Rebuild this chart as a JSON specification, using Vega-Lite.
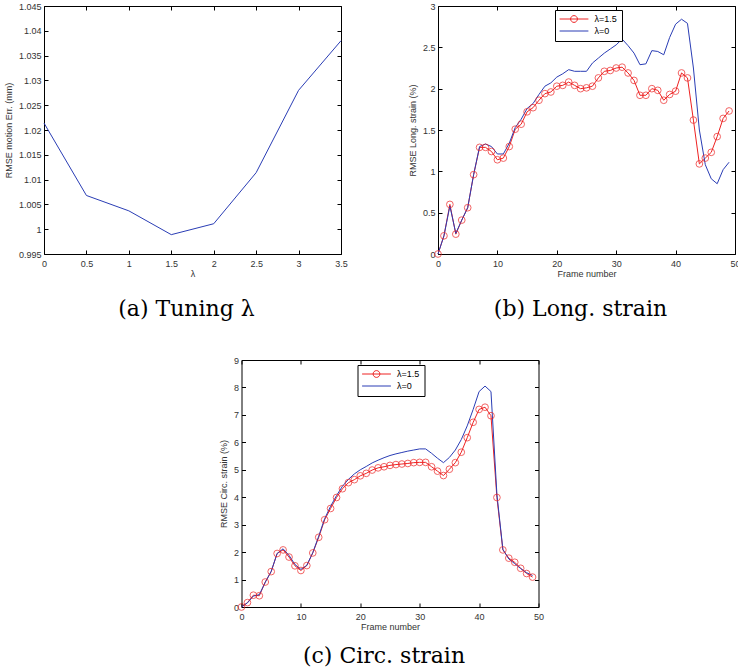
{
  "$schema": "https://vega.github.io/schema/vega-lite/v6.json",
  "padding": {"left": 4, "top": 2, "right": 0, "bottom": 0},
  "background": "white",
  "spacing": 36,
  "resolve": {"scale": {"color": "independent", "shape": "independent"}, "legend": {"color": "independent", "shape": "independent"}},
  "config": {
    "view": {"stroke": null},
    "axis": {
      "domainColor": "black", "domainWidth": 1,
      "tickColor": "black", "tickWidth": 1, "tickSize": -4,
      "labelFont": "Liberation Sans", "labelFontSize": 9, "labelColor": "#333333",
      "titleFont": "Liberation Sans", "titleFontSize": 9, "titleFontWeight": "normal", "titleColor": "#333333",
      "grid": false, "labelOverlap": false, "labelFlush": false, "labelBound": false
    },
    "axisX": {"labelPadding": 9, "titlePadding": 1},
    "axisY": {"labelPadding": 7, "titlePadding": 5},
    "title": {"font": "DejaVu Serif", "fontSize": 22, "fontWeight": "normal", "color": "black"}
  },
  "datasets": {
    "tuning": [
      {"lambda": 0, "rmse": 1.0214}, {"lambda": 0.5, "rmse": 1.0068}, {"lambda": 1, "rmse": 1.0037},
      {"lambda": 1.5, "rmse": 0.9989}, {"lambda": 2, "rmse": 1.0011}, {"lambda": 2.5, "rmse": 1.0114},
      {"lambda": 3, "rmse": 1.028}, {"lambda": 3.5, "rmse": 1.038}
    ],
    "long": [
      {"frame":0,"value":0,"series":"λ=1.5"},{"frame":1,"value":0.22,"series":"λ=1.5"},{"frame":2,"value":0.6,"series":"λ=1.5"},{"frame":3,"value":0.24,"series":"λ=1.5"},{"frame":4,"value":0.41,"series":"λ=1.5"},{"frame":5,"value":0.56,"series":"λ=1.5"},{"frame":6,"value":0.96,"series":"λ=1.5"},{"frame":7,"value":1.29,"series":"λ=1.5"},{"frame":8,"value":1.29,"series":"λ=1.5"},{"frame":9,"value":1.24,"series":"λ=1.5"},
      {"frame":10,"value":1.14,"series":"λ=1.5"},{"frame":11,"value":1.16,"series":"λ=1.5"},{"frame":12,"value":1.3,"series":"λ=1.5"},{"frame":13,"value":1.51,"series":"λ=1.5"},{"frame":14,"value":1.57,"series":"λ=1.5"},{"frame":15,"value":1.72,"series":"λ=1.5"},{"frame":16,"value":1.77,"series":"λ=1.5"},{"frame":17,"value":1.86,"series":"λ=1.5"},{"frame":18,"value":1.94,"series":"λ=1.5"},{"frame":19,"value":1.96,"series":"λ=1.5"},
      {"frame":20,"value":2.03,"series":"λ=1.5"},{"frame":21,"value":2.04,"series":"λ=1.5"},{"frame":22,"value":2.08,"series":"λ=1.5"},{"frame":23,"value":2.04,"series":"λ=1.5"},{"frame":24,"value":2.0,"series":"λ=1.5"},{"frame":25,"value":2.01,"series":"λ=1.5"},{"frame":26,"value":2.03,"series":"λ=1.5"},{"frame":27,"value":2.13,"series":"λ=1.5"},{"frame":28,"value":2.21,"series":"λ=1.5"},{"frame":29,"value":2.22,"series":"λ=1.5"},
      {"frame":30,"value":2.25,"series":"λ=1.5"},{"frame":31,"value":2.26,"series":"λ=1.5"},{"frame":32,"value":2.19,"series":"λ=1.5"},{"frame":33,"value":2.1,"series":"λ=1.5"},{"frame":34,"value":1.92,"series":"λ=1.5"},{"frame":35,"value":1.92,"series":"λ=1.5"},{"frame":36,"value":2.0,"series":"λ=1.5"},{"frame":37,"value":1.98,"series":"λ=1.5"},{"frame":38,"value":1.86,"series":"λ=1.5"},{"frame":39,"value":1.93,"series":"λ=1.5"},
      {"frame":40,"value":1.97,"series":"λ=1.5"},{"frame":41,"value":2.19,"series":"λ=1.5"},{"frame":42,"value":2.13,"series":"λ=1.5"},{"frame":43,"value":1.62,"series":"λ=1.5"},{"frame":44,"value":1.09,"series":"λ=1.5"},{"frame":45,"value":1.16,"series":"λ=1.5"},{"frame":46,"value":1.23,"series":"λ=1.5"},{"frame":47,"value":1.42,"series":"λ=1.5"},{"frame":48,"value":1.64,"series":"λ=1.5"},{"frame":49,"value":1.73,"series":"λ=1.5"},
      {"frame":0,"value":0,"series":"λ=0"},{"frame":1,"value":0.22,"series":"λ=0"},{"frame":2,"value":0.58,"series":"λ=0"},{"frame":3,"value":0.25,"series":"λ=0"},{"frame":4,"value":0.41,"series":"λ=0"},{"frame":5,"value":0.56,"series":"λ=0"},{"frame":6,"value":0.96,"series":"λ=0"},{"frame":7,"value":1.3,"series":"λ=0"},{"frame":8,"value":1.33,"series":"λ=0"},{"frame":9,"value":1.3,"series":"λ=0"},
      {"frame":10,"value":1.21,"series":"λ=0"},{"frame":11,"value":1.21,"series":"λ=0"},{"frame":12,"value":1.34,"series":"λ=0"},{"frame":13,"value":1.53,"series":"λ=0"},{"frame":14,"value":1.63,"series":"λ=0"},{"frame":15,"value":1.76,"series":"λ=0"},{"frame":16,"value":1.82,"series":"λ=0"},{"frame":17,"value":1.93,"series":"λ=0"},{"frame":18,"value":2.03,"series":"λ=0"},{"frame":19,"value":2.07,"series":"λ=0"},
      {"frame":20,"value":2.14,"series":"λ=0"},{"frame":21,"value":2.18,"series":"λ=0"},{"frame":22,"value":2.23,"series":"λ=0"},{"frame":23,"value":2.21,"series":"λ=0"},{"frame":24,"value":2.21,"series":"λ=0"},{"frame":25,"value":2.21,"series":"λ=0"},{"frame":26,"value":2.31,"series":"λ=0"},{"frame":27,"value":2.37,"series":"λ=0"},{"frame":28,"value":2.43,"series":"λ=0"},{"frame":29,"value":2.48,"series":"λ=0"},
      {"frame":30,"value":2.53,"series":"λ=0"},{"frame":31,"value":2.6,"series":"λ=0"},{"frame":32,"value":2.52,"series":"λ=0"},{"frame":33,"value":2.43,"series":"λ=0"},{"frame":34,"value":2.29,"series":"λ=0"},{"frame":35,"value":2.3,"series":"λ=0"},{"frame":36,"value":2.46,"series":"λ=0"},{"frame":37,"value":2.45,"series":"λ=0"},{"frame":38,"value":2.41,"series":"λ=0"},{"frame":39,"value":2.62,"series":"λ=0"},
      {"frame":40,"value":2.78,"series":"λ=0"},{"frame":41,"value":2.84,"series":"λ=0"},{"frame":42,"value":2.79,"series":"λ=0"},{"frame":43,"value":2.25,"series":"λ=0"},{"frame":44,"value":1.5,"series":"λ=0"},{"frame":45,"value":1.08,"series":"λ=0"},{"frame":46,"value":0.91,"series":"λ=0"},{"frame":47,"value":0.85,"series":"λ=0"},{"frame":48,"value":1.02,"series":"λ=0"},{"frame":49,"value":1.11,"series":"λ=0"}
    ],
    "circ": [
      {"frame":0,"value":0,"series":"λ=1.5"},{"frame":1,"value":0.16,"series":"λ=1.5"},{"frame":2,"value":0.43,"series":"λ=1.5"},{"frame":3,"value":0.41,"series":"λ=1.5"},{"frame":4,"value":0.91,"series":"λ=1.5"},{"frame":5,"value":1.29,"series":"λ=1.5"},{"frame":6,"value":1.95,"series":"λ=1.5"},{"frame":7,"value":2.08,"series":"λ=1.5"},{"frame":8,"value":1.82,"series":"λ=1.5"},{"frame":9,"value":1.5,"series":"λ=1.5"},
      {"frame":10,"value":1.33,"series":"λ=1.5"},{"frame":11,"value":1.51,"series":"λ=1.5"},{"frame":12,"value":1.97,"series":"λ=1.5"},{"frame":13,"value":2.54,"series":"λ=1.5"},{"frame":14,"value":3.18,"series":"λ=1.5"},{"frame":15,"value":3.59,"series":"λ=1.5"},{"frame":16,"value":3.99,"series":"λ=1.5"},{"frame":17,"value":4.31,"series":"λ=1.5"},{"frame":18,"value":4.53,"series":"λ=1.5"},{"frame":19,"value":4.64,"series":"λ=1.5"},
      {"frame":20,"value":4.78,"series":"λ=1.5"},{"frame":21,"value":4.87,"series":"λ=1.5"},{"frame":22,"value":4.99,"series":"λ=1.5"},{"frame":23,"value":5.07,"series":"λ=1.5"},{"frame":24,"value":5.11,"series":"λ=1.5"},{"frame":25,"value":5.16,"series":"λ=1.5"},{"frame":26,"value":5.19,"series":"λ=1.5"},{"frame":27,"value":5.21,"series":"λ=1.5"},{"frame":28,"value":5.23,"series":"λ=1.5"},{"frame":29,"value":5.26,"series":"λ=1.5"},
      {"frame":30,"value":5.27,"series":"λ=1.5"},{"frame":31,"value":5.27,"series":"λ=1.5"},{"frame":32,"value":5.11,"series":"λ=1.5"},{"frame":33,"value":4.95,"series":"λ=1.5"},{"frame":34,"value":4.79,"series":"λ=1.5"},{"frame":35,"value":5.02,"series":"λ=1.5"},{"frame":36,"value":5.26,"series":"λ=1.5"},{"frame":37,"value":5.64,"series":"λ=1.5"},{"frame":38,"value":6.17,"series":"λ=1.5"},{"frame":39,"value":6.73,"series":"λ=1.5"},
      {"frame":40,"value":7.2,"series":"λ=1.5"},{"frame":41,"value":7.28,"series":"λ=1.5"},{"frame":42,"value":6.97,"series":"λ=1.5"},{"frame":43,"value":3.99,"series":"λ=1.5"},{"frame":44,"value":2.08,"series":"λ=1.5"},{"frame":45,"value":1.78,"series":"λ=1.5"},{"frame":46,"value":1.63,"series":"λ=1.5"},{"frame":47,"value":1.41,"series":"λ=1.5"},{"frame":48,"value":1.22,"series":"λ=1.5"},{"frame":49,"value":1.09,"series":"λ=1.5"},
      {"frame":0,"value":0,"series":"λ=0"},{"frame":1,"value":0.15,"series":"λ=0"},{"frame":2,"value":0.4,"series":"λ=0"},{"frame":3,"value":0.45,"series":"λ=0"},{"frame":4,"value":0.9,"series":"λ=0"},{"frame":5,"value":1.3,"series":"λ=0"},{"frame":6,"value":1.95,"series":"λ=0"},{"frame":7,"value":2.12,"series":"λ=0"},{"frame":8,"value":1.88,"series":"λ=0"},{"frame":9,"value":1.55,"series":"λ=0"},
      {"frame":10,"value":1.37,"series":"λ=0"},{"frame":11,"value":1.52,"series":"λ=0"},{"frame":12,"value":1.98,"series":"λ=0"},{"frame":13,"value":2.58,"series":"λ=0"},{"frame":14,"value":3.22,"series":"λ=0"},{"frame":15,"value":3.67,"series":"λ=0"},{"frame":16,"value":4.06,"series":"λ=0"},{"frame":17,"value":4.4,"series":"λ=0"},{"frame":18,"value":4.65,"series":"λ=0"},{"frame":19,"value":4.85,"series":"λ=0"},
      {"frame":20,"value":5.0,"series":"λ=0"},{"frame":21,"value":5.12,"series":"λ=0"},{"frame":22,"value":5.25,"series":"λ=0"},{"frame":23,"value":5.35,"series":"λ=0"},{"frame":24,"value":5.44,"series":"λ=0"},{"frame":25,"value":5.52,"series":"λ=0"},{"frame":26,"value":5.58,"series":"λ=0"},{"frame":27,"value":5.63,"series":"λ=0"},{"frame":28,"value":5.68,"series":"λ=0"},{"frame":29,"value":5.72,"series":"λ=0"},
      {"frame":30,"value":5.76,"series":"λ=0"},{"frame":31,"value":5.76,"series":"λ=0"},{"frame":32,"value":5.6,"series":"λ=0"},{"frame":33,"value":5.42,"series":"λ=0"},{"frame":34,"value":5.26,"series":"λ=0"},{"frame":35,"value":5.45,"series":"λ=0"},{"frame":36,"value":5.72,"series":"λ=0"},{"frame":37,"value":6.1,"series":"λ=0"},{"frame":38,"value":6.6,"series":"λ=0"},{"frame":39,"value":7.2,"series":"λ=0"},
      {"frame":40,"value":7.85,"series":"λ=0"},{"frame":41,"value":8.05,"series":"λ=0"},{"frame":42,"value":7.85,"series":"λ=0"},{"frame":43,"value":4.1,"series":"λ=0"},{"frame":44,"value":2.1,"series":"λ=0"},{"frame":45,"value":1.75,"series":"λ=0"},{"frame":46,"value":1.58,"series":"λ=0"},{"frame":47,"value":1.4,"series":"λ=0"},{"frame":48,"value":1.25,"series":"λ=0"},{"frame":49,"value":1.15,"series":"λ=0"}
    ]
  },
  "vconcat": [
    {
      "resolve": {"scale": {"color": "independent", "shape": "independent"}, "legend": {"color": "independent", "shape": "independent"}},
      "hconcat": [
        {
          "width": 297, "height": 248,
          "data": {"name": "tuning"},
          "title": {"text": "(a) Tuning λ", "orient": "bottom", "anchor": "middle", "offset": 21, "dx": -6},
          "layer": [
            {
              "mark": {"type": "line", "color": "#2a3db5", "strokeWidth": 1},
              "encoding": {
                "x": {"field": "lambda", "type": "quantitative", "scale": {"domain": [0, 3.5], "nice": false, "zero": false},
                      "axis": {"orient": "bottom", "title": "λ", "values": [0, 0.5, 1, 1.5, 2, 2.5, 3, 3.5], "format": "~g"}},
                "y": {"field": "rmse", "type": "quantitative", "scale": {"domain": [0.995, 1.045], "nice": false, "zero": false},
                      "axis": {"orient": "left", "title": "RMSE motion Err. (mm)", "values": [0.995, 1, 1.005, 1.01, 1.015, 1.02, 1.025, 1.03, 1.035, 1.04, 1.045], "format": "~g"}}
              }
            },
            {
              "mark": {"type": "point", "opacity": 0},
              "encoding": {
                "x": {"field": "lambda", "type": "quantitative", "axis": {"orient": "top", "labels": false, "title": null, "values": [0, 0.5, 1, 1.5, 2, 2.5, 3, 3.5]}},
                "y": {"field": "rmse", "type": "quantitative", "axis": {"orient": "right", "labels": false, "title": null, "values": [0.995, 1, 1.005, 1.01, 1.015, 1.02, 1.025, 1.03, 1.035, 1.04, 1.045]}}
              }
            }
          ]
        },
        {
          "width": 297, "height": 248,
          "data": {"name": "long"},
          "title": {"text": "(b) Long. strain", "orient": "bottom", "anchor": "middle", "offset": 21, "dx": -6},
          "layer": [
            {
              "mark": {"type": "line", "strokeWidth": 1},
              "encoding": {
                "x": {"field": "frame", "type": "quantitative", "scale": {"domain": [0, 50], "nice": false, "zero": false},
                      "axis": {"orient": "bottom", "title": "Frame number", "values": [0, 10, 20, 30, 40, 50]}},
                "y": {"field": "value", "type": "quantitative", "scale": {"domain": [0, 3], "nice": false, "zero": false},
                      "axis": {"orient": "left", "title": "RMSE Long. strain (%)", "values": [0, 0.5, 1, 1.5, 2, 2.5, 3], "format": "~g"}},
                "color": {"field": "series", "type": "nominal", "scale": {"domain": ["λ=1.5", "λ=0"], "range": ["#ee2222", "#2a3db5"]}}
              }
            },
            {
              "transform": [{"filter": "datum.series === 'λ=1.5'"}],
              "mark": {"type": "point", "shape": "circle", "filled": false, "color": "#ee2222", "size": 45, "strokeWidth": 1},
              "encoding": {
                "x": {"field": "frame", "type": "quantitative", "axis": null},
                "y": {"field": "value", "type": "quantitative", "axis": null}
              }
            },
            {
              "mark": {"type": "point", "opacity": 0, "filled": false, "strokeWidth": 1},
              "encoding": {
                "x": {"field": "frame", "type": "quantitative", "axis": {"orient": "top", "labels": false, "title": null, "values": [0, 10, 20, 30, 40, 50]}},
                "y": {"field": "value", "type": "quantitative", "axis": {"orient": "right", "labels": false, "title": null, "values": [0, 0.5, 1, 1.5, 2, 2.5, 3]}},
                "color": {"field": "series", "type": "nominal", "scale": {"domain": ["λ=1.5", "λ=0"], "range": ["#ee2222", "#2a3db5"]},
                          "legend": {"orient": "none", "legendX": 117, "legendY": 4, "title": null, "strokeColor": "black", "fillColor": "white", "padding": 4.5, "symbolSize": 64, "symbolOffset": 10, "labelOffset": 16, "rowPadding": 2, "labelFontSize": 9, "labelFont": "Liberation Sans", "labelColor": "black", "symbolStrokeWidth": 1, "symbolOpacity": 1, "symbolFillColor": "transparent"}},
                "shape": {"field": "series", "type": "nominal", "scale": {"domain": ["λ=1.5", "λ=0"], "range": ["M-3.6,0H3.6M0.85,0A0.85,0.85 0 1,1 -0.85,0A0.85,0.85 0 1,1 0.85,0", "M-3.6,0H3.6"]},
                          "legend": {"orient": "none", "legendX": 117, "legendY": 4, "title": null, "strokeColor": "black", "fillColor": "white", "padding": 4.5, "symbolSize": 64, "symbolOffset": 10, "labelOffset": 16, "rowPadding": 2, "labelFontSize": 9, "labelFont": "Liberation Sans", "labelColor": "black", "symbolStrokeWidth": 1, "symbolOpacity": 1, "symbolFillColor": "transparent"}}
              }
            }
          ]
        }
      ],
      "spacing": 97,
      "bounds": "flush"
    },
    {
      "resolve": {"scale": {"color": "independent", "shape": "independent"}, "legend": {"color": "independent", "shape": "independent"}},
      "hconcat": [
        {
          "width": 159, "height": 1,
          "data": {"values": []},
          "mark": "point"
        },
        {
          "width": 297, "height": 247,
          "data": {"name": "circ"},
          "title": {"text": "(c) Circ. strain", "orient": "bottom", "anchor": "middle", "offset": 15, "dx": -6},
          "layer": [
            {
              "mark": {"type": "line", "strokeWidth": 1},
              "encoding": {
                "x": {"field": "frame", "type": "quantitative", "scale": {"domain": [0, 50], "nice": false, "zero": false},
                      "axis": {"orient": "bottom", "title": "Frame number", "values": [0, 10, 20, 30, 40, 50]}},
                "y": {"field": "value", "type": "quantitative", "scale": {"domain": [0, 9], "nice": false, "zero": false},
                      "axis": {"orient": "left", "title": "RMSE Circ. strain (%)", "values": [0, 1, 2, 3, 4, 5, 6, 7, 8, 9]}},
                "color": {"field": "series", "type": "nominal", "scale": {"domain": ["λ=1.5", "λ=0"], "range": ["#ee2222", "#2a3db5"]}}
              }
            },
            {
              "transform": [{"filter": "datum.series === 'λ=1.5'"}],
              "mark": {"type": "point", "shape": "circle", "filled": false, "color": "#ee2222", "size": 45, "strokeWidth": 1},
              "encoding": {
                "x": {"field": "frame", "type": "quantitative", "axis": null},
                "y": {"field": "value", "type": "quantitative", "axis": null}
              }
            },
            {
              "mark": {"type": "point", "opacity": 0, "filled": false, "strokeWidth": 1},
              "encoding": {
                "x": {"field": "frame", "type": "quantitative", "axis": {"orient": "top", "labels": false, "title": null, "values": [0, 10, 20, 30, 40, 50]}},
                "y": {"field": "value", "type": "quantitative", "axis": {"orient": "right", "labels": false, "title": null, "values": [0, 1, 2, 3, 4, 5, 6, 7, 8, 9]}},
                "color": {"field": "series", "type": "nominal", "scale": {"domain": ["λ=1.5", "λ=0"], "range": ["#ee2222", "#2a3db5"]},
                          "legend": {"orient": "none", "legendX": 116, "legendY": 5, "title": null, "strokeColor": "black", "fillColor": "white", "padding": 4.5, "symbolSize": 64, "symbolOffset": 10, "labelOffset": 16, "rowPadding": 2, "labelFontSize": 9, "labelFont": "Liberation Sans", "labelColor": "black", "symbolStrokeWidth": 1, "symbolOpacity": 1, "symbolFillColor": "transparent"}},
                "shape": {"field": "series", "type": "nominal", "scale": {"domain": ["λ=1.5", "λ=0"], "range": ["M-3.6,0H3.6M0.85,0A0.85,0.85 0 1,1 -0.85,0A0.85,0.85 0 1,1 0.85,0", "M-3.6,0H3.6"]},
                          "legend": {"orient": "none", "legendX": 116, "legendY": 5, "title": null, "strokeColor": "black", "fillColor": "white", "padding": 4.5, "symbolSize": 64, "symbolOffset": 10, "labelOffset": 16, "rowPadding": 2, "labelFontSize": 9, "labelFont": "Liberation Sans", "labelColor": "black", "symbolStrokeWidth": 1, "symbolOpacity": 1, "symbolFillColor": "transparent"}}
              }
            }
          ]
        }
      ],
      "spacing": 15.5
    }
  ]
}
